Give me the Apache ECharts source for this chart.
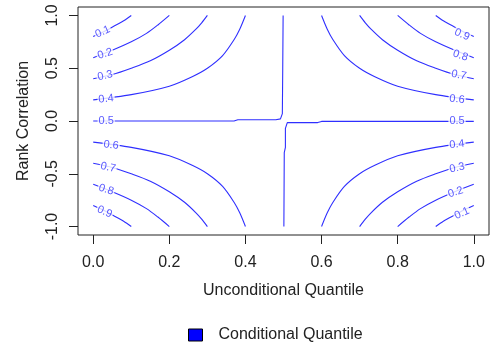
<!DOCTYPE html>
<html>
<head>
<meta charset="utf-8">
<script src="https://cdn.jsdelivr.net/npm/echarts@6.0.0/dist/echarts.min.js"></script>
<style>
  html, body { margin: 0; padding: 0; background: #fff; }
  #chart { width: 491px; height: 349px; }
</style>
</head>
<body>
<div id="chart"></div>
<script>
// axis ticks
const xTicks = [0, 0.2, 0.4, 0.6, 0.8, 1.0];
const yTicks = [-1, -0.5, 0, 0.5, 1];

// contour lines: [unconditional quantile, rank correlation]
const c01Upper = [[0.00, 0.80], [0.03, 0.85], [0.06, 0.91], [0.08, 0.95], [0.10, 1.00]];
const c02Upper = [[0.00, 0.60], [0.05, 0.67], [0.10, 0.75], [0.14, 0.83], [0.17, 0.91], [0.20, 1.00]];
const c03Upper = [[0.00, 0.40], [0.05, 0.44], [0.10, 0.50], [0.15, 0.57], [0.20, 0.67], [0.24, 0.77], [0.27, 0.87], [0.285, 0.93], [0.30, 1.00]];
const c04Upper = [[0.00, 0.20], [0.10, 0.25], [0.20, 0.33], [0.26, 0.42], [0.30, 0.50], [0.34, 0.62], [0.37, 0.77], [0.385, 0.87], [0.40, 1.00]];
const c06Upper = [[0.60, 1.00], [0.615, 0.87], [0.63, 0.77], [0.66, 0.62], [0.70, 0.50], [0.74, 0.42], [0.80, 0.33], [0.90, 0.25], [1.00, 0.20]];
const c07Upper = [[0.70, 1.00], [0.715, 0.93], [0.73, 0.87], [0.76, 0.77], [0.80, 0.67], [0.85, 0.57], [0.90, 0.50], [0.95, 0.44], [1.00, 0.40]];
const c08Upper = [[0.80, 1.00], [0.83, 0.91], [0.86, 0.83], [0.90, 0.75], [0.95, 0.67], [1.00, 0.60]];
const c09Upper = [[0.90, 1.00], [0.92, 0.95], [0.94, 0.91], [0.97, 0.85], [1.00, 0.80]];

const c06Lower = [[0.00, -0.20], [0.10, -0.25], [0.20, -0.33], [0.26, -0.42], [0.30, -0.50], [0.34, -0.62], [0.37, -0.77], [0.385, -0.87], [0.40, -1.00]];
const c07Lower = [[0.00, -0.40], [0.05, -0.44], [0.10, -0.50], [0.15, -0.57], [0.20, -0.67], [0.24, -0.77], [0.27, -0.87], [0.285, -0.93], [0.30, -1.00]];
const c08Lower = [[0.00, -0.60], [0.05, -0.67], [0.10, -0.75], [0.14, -0.83], [0.17, -0.91], [0.20, -1.00]];
const c09Lower = [[0.00, -0.80], [0.03, -0.85], [0.06, -0.91], [0.08, -0.95], [0.10, -1.00]];
const c04Lower = [[0.60, -1.00], [0.615, -0.87], [0.63, -0.77], [0.66, -0.62], [0.70, -0.50], [0.74, -0.42], [0.80, -0.33], [0.90, -0.25], [1.00, -0.20]];
const c03Lower = [[0.70, -1.00], [0.715, -0.93], [0.73, -0.87], [0.76, -0.77], [0.80, -0.67], [0.85, -0.57], [0.90, -0.50], [0.95, -0.44], [1.00, -0.40]];
const c02Lower = [[0.80, -1.00], [0.83, -0.91], [0.86, -0.83], [0.90, -0.75], [0.95, -0.67], [1.00, -0.60]];
const c01Lower = [[0.90, -1.00], [0.92, -0.95], [0.94, -0.91], [0.97, -0.85], [1.00, -0.80]];

// the 0.5 level is the cross through the middle
const c05Left = [[0.00, 0.00], [0.37, 0.00], [0.38, 0.012], [0.48, 0.012], [0.492, 0.02], [0.497, 0.07], [0.498, 0.5], [0.499, 1.00]];
const c05Right = [[0.501, -1.00], [0.502, -0.30], [0.505, -0.25], [0.505, -0.07], [0.51, -0.015], [0.59, -0.015], [0.60, -0.004], [1.00, -0.004]];

// contour labels: [u, rho, text, angle]
const contourLabels = [
  [0.025, 0.845, '0.1', 24], [0.031, 0.636, '0.2', 18], [0.031, 0.43, '0.3', 12],
  [0.034, 0.21, '0.4', 6], [0.034, 0.0, '0.5', 0], [0.047, -0.228, '0.6', -6],
  [0.039, -0.44, '0.7', -12], [0.034, -0.65, '0.8', -18], [0.03, -0.86, '0.9', -24],
  [0.969, 0.818, '0.9', -24], [0.965, 0.62, '0.8', -18], [0.961, 0.435, '0.7', -12],
  [0.956, 0.206, '0.6', -6], [0.956, 0.0, '0.5', 0], [0.956, -0.222, '0.4', 6],
  [0.956, -0.445, '0.3', 12], [0.952, -0.675, '0.2', 18], [0.969, -0.876, '0.1', 24]
];

const smoothLines = [c01Upper, c02Upper, c03Upper, c04Upper, c06Upper, c07Upper, c08Upper, c09Upper,
  c06Lower, c07Lower, c08Lower, c09Lower, c04Lower, c03Lower, c02Lower, c01Lower];
const sharpLines = [c05Left, c05Right];

const FONT = "'Liberation Sans', Arial, sans-serif";
const BLUE = '#2f2fff';

const lineSeries = (data, smooth) => ({
  name: 'Conditional Quantile',
  type: 'line',
  data: data,
  smooth: smooth ? 0.3 : false,
  showSymbol: false,
  symbol: 'none',
  lineStyle: { color: BLUE, width: 1.1 },
  itemStyle: { color: BLUE },
  z: 2
});

const series = smoothLines.map(d => lineSeries(d, true))
  .concat(sharpLines.map(d => lineSeries(d, false)));

series.push({
  name: 'labels',
  type: 'scatter',
  symbolSize: 0,
  z: 5,
  data: contourLabels.map(l => ({
    value: [l[0], l[1]],
    label: { rotate: l[3], formatter: l[2] }
  })),
  label: {
    show: true,
    position: 'inside',
    color: BLUE,
    fontFamily: FONT,
    fontSize: 11,
    backgroundColor: '#fff',
    padding: [0, 1]
  }
});

const chart = echarts.init(document.getElementById('chart'));
chart.setOption({
  animation: false,
  backgroundColor: '#fff',
  grid: {
    left: 78, right: 2, top: 7, bottom: 114,
    show: true, borderColor: '#222', borderWidth: 1
  },
  legend: {
    data: [{ name: 'Conditional Quantile', icon: 'rect' }],
    left: 183, top: 322,
    itemWidth: 14, itemHeight: 12,
    itemStyle: { color: '#0000ff', borderColor: '#000', borderWidth: 1 },
    textStyle: { fontFamily: FONT, fontSize: 16, color: '#222', padding: [0, 0, 0, 11] }
  },
  xAxis: {
    type: 'value',
    min: -0.04, max: 1.04,
    name: 'Unconditional Quantile',
    nameLocation: 'middle',
    nameGap: 48,
    nameTextStyle: { fontFamily: FONT, fontSize: 16, color: '#222' },
    axisLine: { show: false, onZero: false },
    splitLine: { show: false },
    axisTick: { show: true, inside: false, length: 9, customValues: xTicks, lineStyle: { color: '#222' } },
    axisLabel: {
      customValues: xTicks, margin: 20,
      formatter: v => v.toFixed(1),
      fontFamily: FONT, fontSize: 16, color: '#222'
    }
  },
  yAxis: {
    type: 'value',
    min: -1.08, max: 1.08,
    name: 'Rank Correlation',
    nameLocation: 'middle',
    nameRotate: 90,
    nameGap: 46,
    nameTextStyle: { fontFamily: FONT, fontSize: 16, color: '#222' },
    axisLine: { show: false, onZero: false },
    splitLine: { show: false },
    axisTick: { show: true, inside: false, length: 9, customValues: yTicks, lineStyle: { color: '#222' } },
    axisLabel: {
      customValues: yTicks, margin: 17, rotate: 90,
      formatter: v => v.toFixed(1),
      fontFamily: FONT, fontSize: 16, color: '#222'
    }
  },
  series: series
});
</script>
</body>
</html>
